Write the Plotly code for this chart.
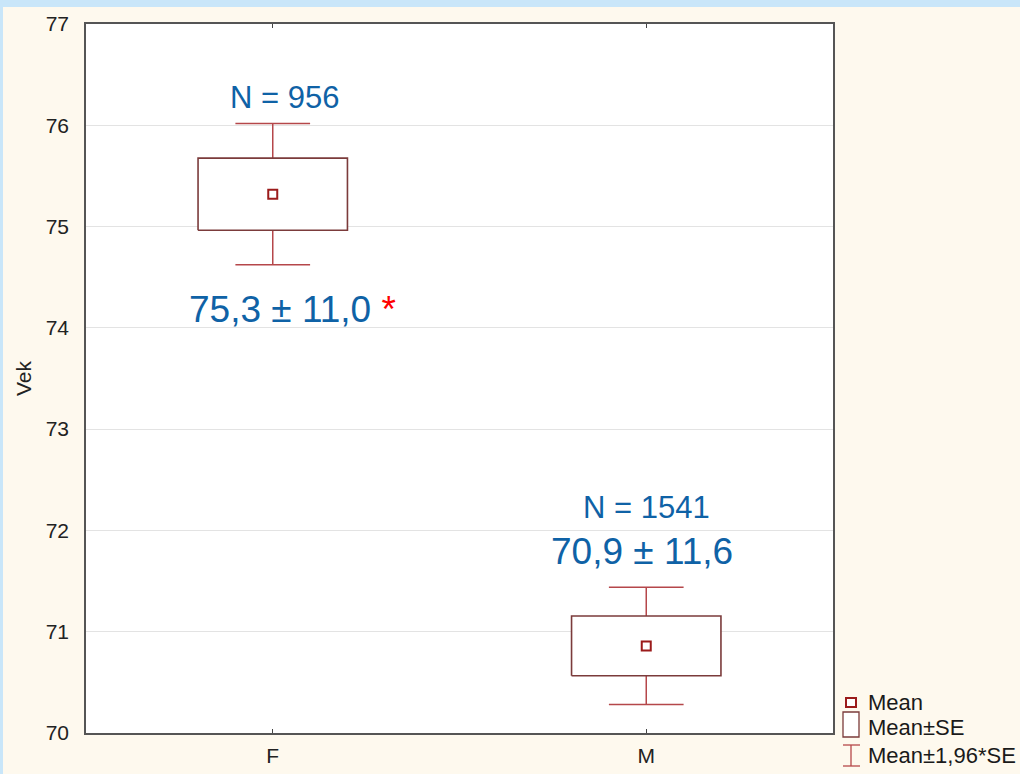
import plotly.graph_objects as go

# Group summaries: mean age, standard deviation and group size
groups = ["F", "M"]
means = [75.32, 70.86]
sds = [11.0, 11.6]
counts = [956, 1541]
significant = [True, False]

y_ticks = [70, 71, 72, 73, 74, 75, 76, 77]

BOX_COLOR = "#7B3B3B"
WHISKER_COLOR = "#B5474A"
MEAN_COLOR = "#9B1B1B"
LABEL_BLUE = "#0F62A6"
CREAM = "#FEF9EE"
STRIP_BLUE = "#C9E6F9"
FONT = "Liberation Sans, Arial, sans-serif"

W, H = 1020, 774
L, R, T, B = 86, 187, 24, 41
pw, ph = W - L - R, H - T - B


def px_x(px):
    return (px - L) / pw


def px_y(py):
    return (H - B - py) / ph


ses = [sd / n ** 0.5 for sd, n in zip(sds, counts)]
half_box = 0.2
half_cap = 0.1

fig = go.Figure()

# whiskers: from the box edge to +/-1.96*SE, with caps
wx, wy = [], []
for i, (m, se) in enumerate(zip(means, ses)):
    hi, lo = m + 1.96 * se, m - 1.96 * se
    wx += [i, i, None, i - half_cap, i + half_cap, None,
           i, i, None, i - half_cap, i + half_cap, None]
    wy += [m + se, hi, None, hi, hi, None,
           m - se, lo, None, lo, lo, None]
fig.add_trace(go.Scatter(x=wx, y=wy, mode="lines",
                         line=dict(color=WHISKER_COLOR, width=1.5),
                         hoverinfo="skip", showlegend=False))

# boxes: mean +/- SE
for i, (m, se) in enumerate(zip(means, ses)):
    fig.add_trace(go.Scatter(
        x=[i - half_box, i + half_box, i + half_box, i - half_box, i - half_box],
        y=[m - se, m - se, m + se, m + se, m - se],
        mode="lines", fill="toself", fillcolor="white",
        line=dict(color=BOX_COLOR, width=1.6),
        hoverinfo="skip", showlegend=False))

# means
fig.add_trace(go.Scatter(
    x=list(range(len(groups))), y=means, mode="markers",
    marker=dict(symbol="square", size=9, color="white",
                line=dict(color=MEAN_COLOR, width=2)),
    showlegend=False))


def fmt(v):
    return f"{v:.1f}".replace(".", ",")


annotations = []
for i, (m, sd, n, sig) in enumerate(zip(means, sds, counts, significant)):
    if sig:
        annotations.append(dict(x=i, y=76.27, xref="x", yref="y", xshift=12,
                                text=f"N = {n}", showarrow=False,
                                font=dict(size=31, color=LABEL_BLUE, family=FONT)))
        annotations.append(dict(x=i, y=74.18, xref="x", yref="y", xshift=-86,
                                xanchor="left",
                                text=f"{fmt(m)} ± {fmt(sd)} <span style='color:#FF0000'>*</span>",
                                showarrow=False,
                                font=dict(size=37, color=LABEL_BLUE, family=FONT)))
    else:
        annotations.append(dict(x=i, y=72.23, xref="x", yref="y", xshift=0,
                                text=f"N = {n}", showarrow=False,
                                font=dict(size=31, color=LABEL_BLUE, family=FONT)))
        annotations.append(dict(x=i, y=71.79, xref="x", yref="y", xshift=-4,
                                text=f"{fmt(m)} ± {fmt(sd)}", showarrow=False,
                                font=dict(size=37, color=LABEL_BLUE, family=FONT)))

# legend entries
legend_text = ["Mean", "Mean±SE", "Mean±1,96*SE"]
legend_y = [702, 727, 755]
for txt, py in zip(legend_text, legend_y):
    annotations.append(dict(x=px_x(866), y=px_y(py), xref="paper", yref="paper",
                            xanchor="left", yanchor="middle", text=txt,
                            showarrow=False,
                            font=dict(size=22, color="#1A1A1A", family=FONT)))

shapes = [
    # frame strips
    dict(type="rect", xref="paper", yref="paper", x0=px_x(0), x1=px_x(W),
         y0=px_y(7), y1=px_y(0), fillcolor=STRIP_BLUE, line=dict(width=0)),
    dict(type="rect", xref="paper", yref="paper", x0=px_x(0), x1=px_x(3),
         y0=px_y(H), y1=px_y(7), fillcolor=STRIP_BLUE, line=dict(width=0)),
    # legend symbols
    dict(type="rect", xref="paper", yref="paper", x0=px_x(846), x1=px_x(856),
         y0=px_y(707), y1=px_y(698), fillcolor="white",
         line=dict(color=MEAN_COLOR, width=2)),
    dict(type="rect", xref="paper", yref="paper", x0=px_x(843), x1=px_x(859),
         y0=px_y(737), y1=px_y(712), fillcolor="white",
         line=dict(color=BOX_COLOR, width=1.3)),
    dict(type="line", xref="paper", yref="paper", x0=px_x(851), x1=px_x(851),
         y0=px_y(766), y1=px_y(745), line=dict(color=WHISKER_COLOR, width=1.3)),
    dict(type="line", xref="paper", yref="paper", x0=px_x(843), x1=px_x(860),
         y0=px_y(745), y1=px_y(745), line=dict(color=WHISKER_COLOR, width=1.3)),
    dict(type="line", xref="paper", yref="paper", x0=px_x(843), x1=px_x(860),
         y0=px_y(766), y1=px_y(766), line=dict(color=WHISKER_COLOR, width=1.3)),
]

fig.update_layout(
    width=W, height=H,
    margin=dict(l=L, r=R, t=T, b=B, pad=0),
    paper_bgcolor=CREAM, plot_bgcolor="white",
    font=dict(family=FONT, color="#222222"),
    showlegend=False,
    annotations=annotations,
    shapes=shapes,
    xaxis=dict(range=[-0.5, 1.5], tickvals=list(range(len(groups))),
               ticktext=groups, ticks="inside", ticklen=4, tickcolor="#444",
               showgrid=False, zeroline=False, showline=True, mirror="ticks",
               linecolor="#555555", linewidth=1.5, ticklabelstandoff=3,
               automargin=False,
               tickfont=dict(size=21, color="#222222")),
    yaxis=dict(range=[70, 77], tickvals=y_ticks, ticks="", showgrid=True,
               gridcolor="#E3E3E3", gridwidth=1, zeroline=False, showline=True,
               mirror=True, linecolor="#555555", linewidth=1.5,
               automargin=False,
               tickfont=dict(size=21, color="#222222"), ticklabelstandoff=11,
               title=dict(text="Vek", font=dict(size=21, color="#222222"),
                          standoff=8)),
)

fig.write_html("out.html")
